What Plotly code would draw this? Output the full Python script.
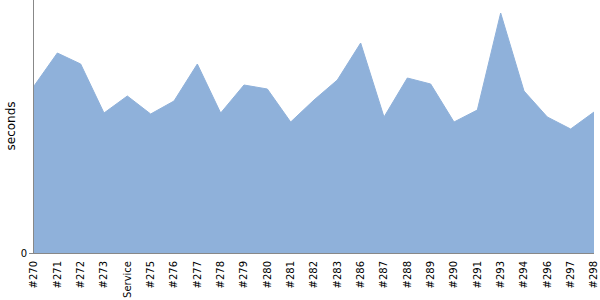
import plotly.graph_objects as go

builds = ["#270", "#271", "#272", "#273", "Service", "#275", "#276", "#277", "#278",
          "#279", "#280", "#281", "#282", "#283", "#286", "#287", "#288", "#289",
          "#290", "#291", "#293", "#294", "#296", "#297", "#298"]
durations = [167, 200, 189, 140, 157, 139, 152, 189, 140, 168, 164, 131, 153, 173,
             210, 136, 175, 169, 131, 143, 240, 162, 136, 124, 141]

fig = go.Figure()
fig.add_trace(go.Scatter(
    x=list(range(len(builds))), y=durations, mode="lines",
    fill="tozeroy", fillcolor="rgb(143,177,218)",
    line=dict(color="rgb(143,177,218)", width=1),
    hoverinfo="skip", showlegend=False,
))
fig.update_layout(
    width=600, height=300,
    margin=dict(l=34, r=6, t=0, b=47, autoexpand=False),
    paper_bgcolor="white", plot_bgcolor="white",
    font=dict(family="DejaVu Sans", size=10, color="black"),
    xaxis=dict(
        tickmode="array", tickvals=list(range(len(builds))), ticktext=builds,
        tickangle=-90, range=[0, len(builds) - 1], showgrid=False, zeroline=False,
        showline=True, linecolor="#888888", linewidth=1,
        ticks="outside", ticklen=3, tickcolor="rgba(0,0,0,0)",
        tickfont=dict(size=10),
    ),
    yaxis=dict(
        range=[0, 253], tickmode="array", tickvals=[0], ticktext=["0"],
        showgrid=False, zeroline=False, showline=True, linecolor="#888888",
        linewidth=1, ticks="outside", ticklen=4, tickcolor="#888888",
        tickfont=dict(size=10),
    ),
    annotations=[dict(
        text="seconds", textangle=-90, showarrow=False,
        xref="paper", yref="paper", x=-24 / 560, y=0.5,
        xanchor="center", yanchor="middle", font=dict(size=12),
    )],
)
fig.write_html("out.html")
